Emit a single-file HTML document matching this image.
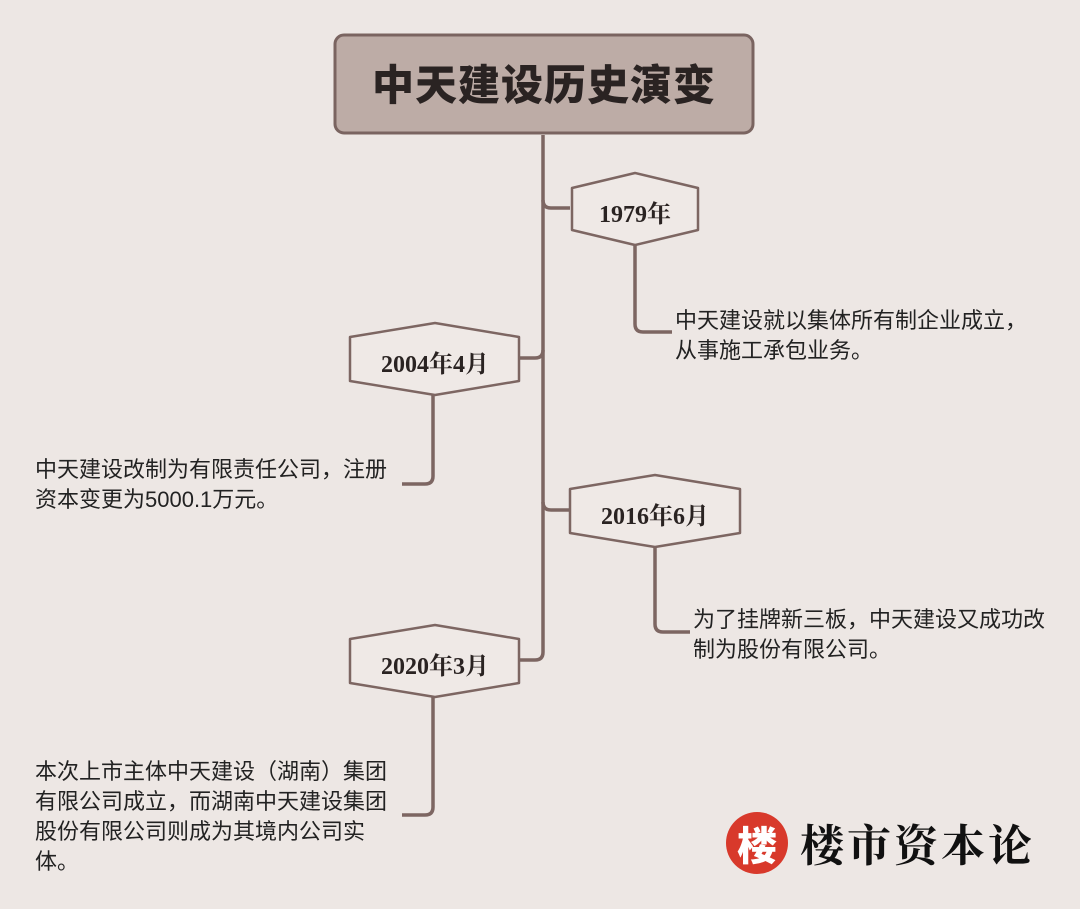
<!DOCTYPE html>
<html><head><meta charset="utf-8"><style>
body{margin:0;width:1080px;height:909px;background:#ede7e4;position:relative;overflow:hidden;font-family:"Liberation Sans","Noto Sans CJK SC",sans-serif;}
.t{position:absolute;font-size:22px;color:#222;line-height:30px;white-space:nowrap}
.h{position:absolute;font-family:"Liberation Serif","Noto Serif CJK SC",serif;font-weight:bold;font-size:24px;color:#2a2322;text-align:center}
</style></head><body>
<svg width="1080" height="909" style="position:absolute;left:0;top:0">
<rect x="335" y="35" width="418" height="98" rx="9" fill="#bdaca6" stroke="#7a6460" stroke-width="3"/>
<g fill="none" stroke="#7d6662" stroke-width="3.5" stroke-linejoin="round">
<path d="M543 135 V652 Q543 660 535 660 H520"/>
<path d="M543 200 Q543 208 551 208 H570"/>
<path d="M543 350 Q543 358 535 358 H520"/>
<path d="M543 502 Q543 510 551 510 H570"/>
<path d="M635 245 V324 Q635 332 643 332 H672"/>
<path d="M433 395 V476 Q433 484 425 484 H402"/>
<path d="M655 547 V624 Q655 632 663 632 H690"/>
<path d="M433 697 V807 Q433 815 425 815 H402"/>
</g>
<g fill="#efe9e6" stroke="#7d6662" stroke-width="2.5" stroke-linejoin="round">
<path d="M572 188 L635 173 L698 188 V230 L635 245 L572 230 Z"/>
<path d="M350 337 L435 323 L519 337 V381 L435 395 L350 381 Z"/>
<path d="M570 489 L655 475 L740 489 V533 L655 547 L570 533 Z"/>
<path d="M350 639 L435 625 L519 639 V683 L435 697 L350 683 Z"/>
</g>
<circle cx="757" cy="843" r="31" fill="#d8392b"/>
</svg>
<div style="position:absolute;left:335px;top:52px;width:418px;text-align:center;font-size:42px;letter-spacing:1px;font-weight:900;color:#2a2322;font-family:'Noto Sans CJK SC',sans-serif">中天建设历史演变</div>
<div class="h" style="left:572px;top:194px;width:126px">1979年</div>
<div class="h" style="left:350px;top:344px;width:170px">2004年4月</div>
<div class="h" style="left:570px;top:496px;width:170px">2016年6月</div>
<div class="h" style="left:350px;top:646px;width:170px">2020年3月</div>
<div class="t" style="left:675px;top:306px">中天建设就以集体所有制企业成立，<br>从事施工承包业务。</div>
<div class="t" style="left:35px;top:455px">中天建设改制为有限责任公司，注册<br>资本变更为5000.1万元。</div>
<div class="t" style="left:693px;top:605px">为了挂牌新三板，中天建设又成功改<br>制为股份有限公司。</div>
<div class="t" style="left:35px;top:757px">本次上市主体中天建设（湖南）集团<br>有限公司成立，而湖南中天建设集团<br>股份有限公司则成为其境内公司实<br>体。</div>
<div style="position:absolute;left:726px;top:820px;width:62px;text-align:center;font-size:40px;font-weight:900;color:#fff;font-family:'Noto Sans CJK SC',sans-serif;line-height:46px">楼</div>
<div style="position:absolute;left:800px;top:817px;font-size:44px;font-weight:bold;color:#111;font-family:'Noto Serif CJK SC',serif;line-height:50px;letter-spacing:3px">楼市资本论</div>
</body></html>
